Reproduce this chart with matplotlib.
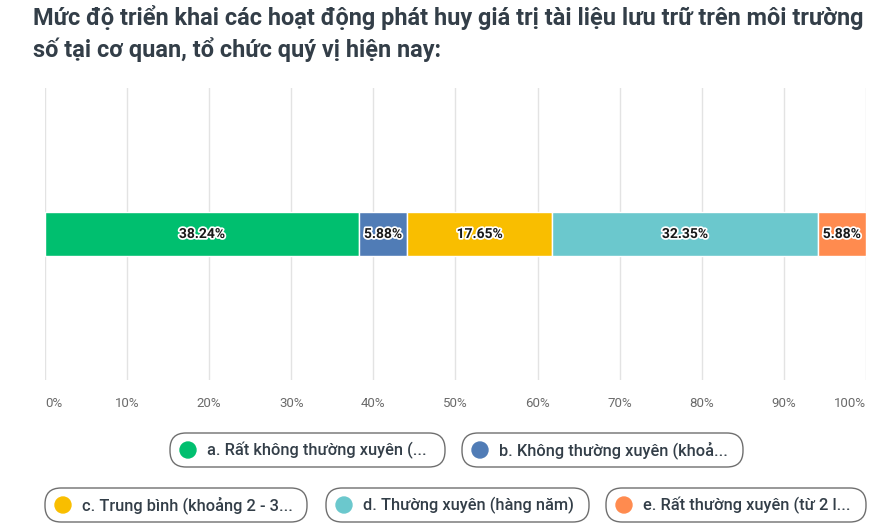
import matplotlib.pyplot as plt
import matplotlib.patheffects as pe
from matplotlib.patches import FancyBboxPatch, Circle

plt.rcParams['font.family'] = ['Roboto', 'DejaVu Sans']

title = "Mức độ triển khai các hoạt động phát huy giá trị tài liệu lưu trữ trên môi trường\nsố tại cơ quan, tổ chức quý vị hiện nay:"
categories = [
    "a. Rất không thường xuyên (...",
    "b. Không thường xuyên (khoả...",
    "c. Trung bình (khoảng 2 - 3...",
    "d. Thường xuyên (hàng năm)",
    "e. Rất thường xuyên (từ 2 l...",
]
values = [38.24, 5.88, 17.65, 32.35, 5.88]
colors = ["#00BF6F", "#507CB6", "#F9BE00", "#6BC8CD", "#FF8B4F"]
ticks = [0, 10, 20, 30, 40, 50, 60, 70, 80, 90, 100]

W, H = 887, 525
fig = plt.figure(figsize=(W / 100, H / 100), dpi=100)
ax = fig.add_axes([45 / W, 1 - 380 / H, (866 - 45) / W, (380 - 88) / H])

left = 0
for v, c in zip(values, colors):
    ax.barh(0, v, left=left, height=0.1507, color=c, edgecolor="white", linewidth=1)
    t = ax.text(left + v / 2, 0, f"{v:.2f}%", ha="center", va="center",
                fontsize=10, fontweight="bold", color="#1a1a1a")
    t.set_path_effects([pe.withStroke(linewidth=2.5, foreground="white")])
    left += v

ax.set_xlim(0, 100)
ax.set_ylim(-0.5, 0.5)
ax.set_yticks([])
ax.set_xticks(ticks)
labels = ax.set_xticklabels([f"{t}%" for t in ticks], color="#6a6a6a", fontsize=9.5)
labels[0].set_ha("left")
labels[-1].set_ha("right")
ax.tick_params(axis="x", length=0, pad=12)
ax.xaxis.grid(True, color="#e3e3e3", linewidth=1)
ax.set_axisbelow(True)
for s in ax.spines.values():
    s.set_visible(False)

fig.text(33 / W, 1 - 5 / H, title, ha="left", va="top", fontsize=16.9,
         fontweight="bold", color="#333e48", linespacing=1.35)

# legend pills drawn in pixel coordinates
lax = fig.add_axes([0, 0, 1, 1], zorder=-1)
lax.set_xlim(0, W)
lax.set_ylim(H, 0)
lax.axis("off")
boxes = [(170, 445, 450), (462, 743, 450), (45, 307, 505), (326, 589, 505), (606, 866, 505)]
for (x0, x1, yc), lab, c in zip(boxes, categories, colors):
    h = 34
    lax.add_patch(FancyBboxPatch((x0, yc - h / 2), x1 - x0, h,
                                 boxstyle="round,pad=0,rounding_size=16",
                                 facecolor="white", edgecolor="#6f6f6f", linewidth=1))
    lax.add_patch(Circle((x0 + 18, yc), 8, color=c))
    lax.text(x0 + 37, yc, lab, ha="left", va="center",
             fontsize=11.8, color="#333e48", fontweight="medium")

fig.savefig("out.png", dpi=100)
